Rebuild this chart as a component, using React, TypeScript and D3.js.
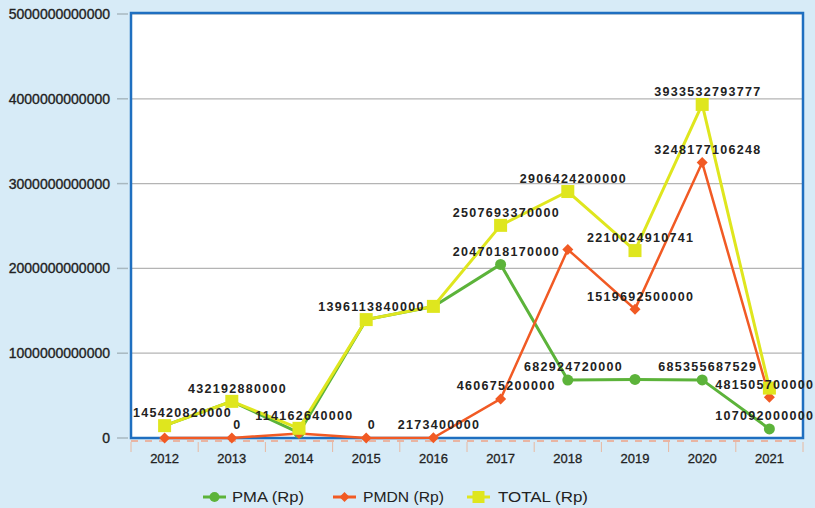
import React from "react";
import * as d3 from "d3";

const years = ["2012", "2013", "2014", "2015", "2016", "2017", "2018", "2019", "2020", "2021"];
const pma = [145420820000, 432192880000, 60000000000, 1396113840000, 1550000000000, 2047018170000, 682924720000, 690332410741, 685355687529, 107092000000];
const pmdn = [0, 0, 54162640000, 0, 2173400000, 460675200000, 2223499480000, 1519692500000, 3248177106248, 481505700000];
const total = [145420820000, 432192880000, 114162640000, 1396113840000, 1552173400000, 2507693370000, 2906424200000, 2210024910741, 3933532793777, 588597700000];
// which points carry a value label
const pmaLabelled = [false, false, false, false, false, true, true, false, true, true];
const pmdnLabelled = [false, true, false, true, true, true, false, true, true, true];
const totalLabelled = [true, true, true, true, false, true, true, true, true, false];
const yTicks = [0, 1000000000000, 2000000000000, 3000000000000, 4000000000000, 5000000000000];
const seriesNames = ["PMA (Rp)", "PMDN (Rp)", "TOTAL (Rp)"];

const W = 815, H = 508;
const L = 131, R = 803, T = 14, B = 438;
const GREEN = "#5cb33a", ORANGE = "#f15a24", YELLOW = "#dfe61e", BLUE = "#1f6fc0";

export default function App() {
  const x = d3.scalePoint<string>().domain(years).range([L, R]).padding(0.5);
  const y = d3.scaleLinear().domain([0, 5000000000000]).range([B, T]);
  const line = d3.line<number>().x((_, i) => x(years[i]) as number).y((d) => y(d));
  const step = x.step();

  const labelFont = 12.5, labelSpacing = 1.3;
  const label = (v: number, i: number, key: string) => {
    const s = String(v);
    const w = s.length * (labelFont * 0.556 + labelSpacing) - labelSpacing;
    let cx = (x(years[i]) as number) + 5;
    if (cx - w / 2 < L + 2) cx = L + 2 + w / 2;
    if (cx + w / 2 > W - 2) cx = W - 2 - w / 2;
    return (
      <text key={key} x={cx - w / 2} y={y(v) - 13} dy="0.35em" fontFamily="Liberation Sans, Arial, sans-serif"
        fontWeight="bold" fontSize={labelFont} letterSpacing={labelSpacing} fill="#222">{s}</text>
    );
  };

  const diamond = (cx: number, cy: number, r: number) => `M${cx},${cy - r}L${cx + r},${cy}L${cx},${cy + r}L${cx - r},${cy}Z`;

  const legendItems = [
    { name: seriesNames[0], color: GREEN, x0: 203, tx: 232, kind: "circle" },
    { name: seriesNames[1], color: ORANGE, x0: 333, tx: 363, kind: "diamond" },
    { name: seriesNames[2], color: YELLOW, x0: 467, tx: 498, kind: "square" },
  ];

  return (
    <svg width={W} height={H} style={{ position: "absolute", left: 0, top: 0 }}>
      <rect x={0} y={0} width={W} height={H} fill="#d7ebf7" />
      <rect x={L} y={T - 1} width={R - L} height={B - T + 1} fill="#ffffff" />
      {yTicks.map((t) => (
        <g key={t}>
          {t > 0 && <line x1={L} x2={R} y1={y(t)} y2={y(t)} stroke="#b4b4b4" strokeWidth={1.2} />}
          <line x1={117} x2={128} y1={y(t)} y2={y(t)} stroke="#a8b8c0" strokeWidth={1.5} />
          <text x={110} y={y(t)} dy="0.35em" textAnchor="end" fontFamily="Liberation Sans, Arial, sans-serif"
            fontSize={14} fill="#222" stroke="#222" strokeWidth={0.35}>{String(t)}</text>
        </g>
      ))}
      <line x1={L} x2={R} y1={B + 3} y2={B + 3} stroke="#f0a488" strokeWidth={1.5} strokeDasharray="7,7" />
      {d3.range(years.length + 1).map((k) => (
        <line key={k} x1={L + k * step} x2={L + k * step} y1={B + 4} y2={B + 14} stroke="#e8b8a0" strokeWidth={1} />
      ))}
      <path d={`M${L},${B}V${T - 1}H${R}V${B}Z`} fill="none" stroke={BLUE} strokeWidth={2.5} />
      {years.map((yr) => (
        <text key={yr} x={x(yr) as number} y={463} textAnchor="middle" fontFamily="Liberation Sans, Arial, sans-serif"
          fontSize={13} fill="#222" stroke="#222" strokeWidth={0.3}>{yr}</text>
      ))}

      <path d={line(pma) || ""} fill="none" stroke={GREEN} strokeWidth={3} />
      <path d={line(pmdn) || ""} fill="none" stroke={ORANGE} strokeWidth={2.5} />
      <path d={line(total) || ""} fill="none" stroke={YELLOW} strokeWidth={3} />
      {pma.map((v, i) => (
        <circle key={"g" + i} cx={x(years[i]) as number} cy={y(v)} r={5.5} fill={GREEN} />
      ))}
      {pmdn.map((v, i) => (
        <path key={"o" + i} d={diamond(x(years[i]) as number, y(v), 5.5)} fill={ORANGE} />
      ))}
      {total.map((v, i) => (
        <rect key={"t" + i} x={(x(years[i]) as number) - 6.5} y={y(v) - 6.5} width={13} height={13} fill={YELLOW} />
      ))}

      {total.map((v, i) => totalLabelled[i] ? label(v, i, "lt" + i) : null)}
      {pma.map((v, i) => pmaLabelled[i] ? label(v, i, "lg" + i) : null)}
      {pmdn.map((v, i) => pmdnLabelled[i] ? label(v, i, "lo" + i) : null)}

      {legendItems.map((it) => (
        <g key={it.name}>
          <line x1={it.x0} x2={it.x0 + 23} y1={497} y2={497} stroke={it.color} strokeWidth={3} />
          {it.kind === "circle" && <circle cx={it.x0 + 11.5} cy={497} r={5} fill={it.color} />}
          {it.kind === "diamond" && <path d={diamond(it.x0 + 11.5, 497, 5)} fill={it.color} />}
          {it.kind === "square" && <rect x={it.x0 + 5.5} y={491} width={12} height={12} fill={it.color} />}
          <text x={it.tx} y={497} dy="0.35em" fontFamily="Liberation Sans, Arial, sans-serif" fontSize={15}
            fill="#222" textLength={it.name.length * 9} lengthAdjust="spacingAndGlyphs">{it.name}</text>
        </g>
      ))}
    </svg>
  );
}
